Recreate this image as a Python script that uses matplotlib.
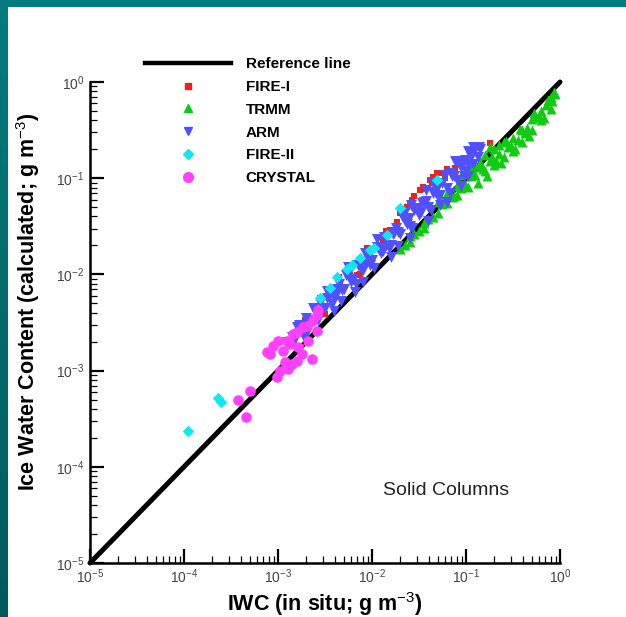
import matplotlib
matplotlib.use("Agg")
import matplotlib.pyplot as plt
import numpy as np
from matplotlib.lines import Line2D
from matplotlib.patches import Rectangle
from matplotlib.ticker import LogLocator, LogFormatterMathtext, NullFormatter

plt.rcParams["font.family"] = ["Liberation Sans", "DejaVu Sans"]
plt.rcParams["mathtext.fontset"] = "custom"
plt.rcParams["mathtext.rm"] = "Liberation Sans"
plt.rcParams["mathtext.it"] = "Liberation Sans:italic"
plt.rcParams["mathtext.bf"] = "Liberation Sans:bold"

# ---------------------------------------------------------------------------
# IWC data (in situ vs calculated), g m^-3
# ---------------------------------------------------------------------------
fire1_x = [2.54e-2, 4.14e-2, 3.24e-2, 1.85e-2, 3.49e-2, 2.14e-2, 4.46e-2, 4.9e-2,
           7.45e-3, 6.9e-3, 3.16e-3, 2.35e-3, 4.35e-2, 2.67e-2, 2.35e-2, 1.80e-1,
           5.56e-2, 1.31e-2, 1.55e-2, 9.5e-3, 4.57e-3, 5.83e-3, 5.98e-2, 7.6e-2,
           1.94e-3, 2.82e-3, 4.47e-3, 8.91e-3, 1.41e-2, 2.0e-2, 2.82e-2, 3.55e-2,
           6.31e-2, 8.91e-2, 1.12e-1]
fire1_y = [5.5e-2, 9.5e-2, 7.5e-2, 3.48e-2, 8.05e-2, 4.42e-2, 1.02e-1, 1.13e-1,
           1.02e-2, 9.8e-3, 3.92e-3, 3.56e-3, 8.87e-2, 5.9e-2, 4.99e-2, 2.32e-1,
           1.13e-1, 2.26e-2, 2.87e-2, 1.58e-2, 7.7e-3, 9.8e-3, 1.0e-1, 1.27e-1,
           3.32e-3, 5.62e-3, 9.33e-3, 1.86e-2, 2.82e-2, 4.37e-2, 6.46e-2, 7.76e-2,
           1.26e-1, 1.58e-1, 1.78e-1]

trmm_x = [2.0e-2, 2.24e-2, 2.51e-2, 2.82e-2, 3.16e-2, 3.55e-2, 3.98e-2, 4.47e-2,
          5.01e-2, 5.62e-2, 6.31e-2, 7.08e-2, 7.94e-2, 7.94e-2, 8.91e-2, 1.0e-1,
          1.0e-1, 1.12e-1, 1.26e-1, 1.26e-1, 1.41e-1, 1.58e-1, 1.58e-1, 1.78e-1,
          2.0e-1, 2.0e-1, 2.24e-1, 2.51e-1, 2.51e-1, 2.82e-1, 3.16e-1, 3.16e-1,
          3.55e-1, 3.98e-1, 3.98e-1, 4.47e-1, 5.01e-1, 5.01e-1, 5.62e-1, 6.31e-1,
          6.31e-1, 7.08e-1, 7.94e-1, 7.94e-1, 8.91e-1, 8.32e-1, 6.31e-2, 1.12e-1,
          1.78e-1, 5.01e-2,
          1.06e-1, 1.19e-1, 1.33e-1, 1.50e-1, 1.68e-1, 1.88e-1, 2.11e-1, 2.37e-1,
          2.66e-1, 2.99e-1, 3.35e-1, 3.76e-1, 4.22e-1, 4.73e-1, 5.31e-1, 5.96e-1,
          6.68e-1, 7.50e-1, 8.71e-1, 7.50e-2, 5.62e-2, 3.55e-2, 2.51e-2, 8.91e-2,
          1.41e-1, 2.24e-1]
trmm_y = [1.82e-2, 2.0e-2, 2.19e-2, 2.63e-2, 2.82e-2, 3.02e-2, 3.80e-2, 3.98e-2,
          4.37e-2, 5.37e-2, 5.50e-2, 6.31e-2, 8.32e-2, 6.76e-2, 7.94e-2, 1.10e-1,
          8.32e-2, 1.05e-1, 1.38e-1, 1.07e-1, 1.32e-1, 1.74e-1, 1.20e-1, 1.51e-1,
          2.0e-1, 1.38e-1, 1.78e-1, 2.40e-1, 1.66e-1, 2.09e-1, 2.63e-1, 1.91e-1,
          2.51e-1, 3.16e-1, 2.40e-1, 3.31e-1, 4.17e-1, 3.16e-1, 4.37e-1, 5.01e-1,
          3.98e-1, 5.75e-1, 6.92e-1, 5.25e-1, 7.59e-1, 6.31e-1, 7.08e-2, 1.32e-1,
          2.09e-1, 5.62e-2,
          8.04e-2, 1.14e-1, 8.81e-2, 1.24e-1, 1.06e-1, 1.68e-1, 1.50e-1, 1.43e-1,
          2.43e-1, 2.16e-1, 2.02e-1, 3.27e-1, 2.92e-1, 2.72e-1, 4.73e-1, 4.32e-1,
          4.22e-1, 6.53e-1, 7.94e-1, 6.53e-2, 5.89e-2, 3.39e-2, 2.51e-2, 1.07e-1,
          1.48e-1, 2.24e-1]

arm_x = [1.41e-3, 1.58e-3, 1.78e-3, 2.0e-3, 2.24e-3, 2.51e-3, 2.82e-3, 3.16e-3,
         3.55e-3, 3.98e-3, 4.47e-3, 5.01e-3, 5.62e-3, 6.31e-3, 7.08e-3, 7.94e-3,
         8.91e-3, 1.0e-2, 1.12e-2, 1.26e-2, 1.41e-2, 1.58e-2, 1.78e-2, 2.0e-2,
         2.24e-2, 2.51e-2, 2.82e-2, 3.16e-2, 3.55e-2, 3.98e-2, 4.47e-2, 5.01e-2,
         5.62e-2, 6.31e-2, 7.08e-2, 7.94e-2, 8.91e-2, 1.0e-1, 1.12e-1, 1.20e-1,
         2.0e-3, 3.98e-3, 7.94e-3, 1.58e-2, 2.51e-2, 3.98e-2, 6.31e-2, 8.91e-2,
         5.62e-3, 1.12e-2, 2.24e-2, 4.47e-2, 7.94e-2, 1.05e-1, 1.26e-3, 1.26e-1,
         1.41e-1, 1.38e-1,
         1.50e-3, 1.68e-3, 1.88e-3, 2.11e-3, 2.37e-3, 2.66e-3, 2.99e-3, 3.35e-3,
         3.76e-3, 4.22e-3, 4.73e-3, 5.31e-3, 5.96e-3, 6.68e-3, 7.50e-3, 8.41e-3,
         9.44e-3, 1.06e-2, 1.19e-2, 1.33e-2, 1.50e-2, 1.68e-2, 1.88e-2, 2.11e-2,
         2.37e-2, 2.66e-2, 2.99e-2, 3.35e-2, 3.76e-2, 4.22e-2, 4.73e-2, 5.31e-2,
         5.96e-2, 6.68e-2, 7.50e-2, 8.41e-2, 9.44e-2, 1.06e-1, 1.19e-1, 1.33e-1,
         1.66e-3, 2.40e-3, 3.31e-3, 4.79e-3, 6.61e-3, 9.55e-3, 1.32e-2, 1.91e-2,
         2.63e-2, 3.80e-2, 5.25e-2, 7.59e-2, 1.05e-1,
         2.7e-3, 4.1e-3, 6.0e-3, 8.6e-3, 1.24e-2, 1.72e-2, 2.45e-2, 3.4e-2,
         4.9e-2, 6.9e-2, 9.7e-2, 1.15e-1]
arm_y = [2.24e-3, 2.82e-3, 2.51e-3, 3.55e-3, 3.16e-3, 3.98e-3, 5.01e-3, 4.47e-3,
         6.31e-3, 5.62e-3, 7.94e-3, 7.08e-3, 1.0e-2, 8.91e-3, 1.26e-2, 1.12e-2,
         1.58e-2, 1.41e-2, 1.91e-2, 1.66e-2, 2.40e-2, 2.0e-2, 3.02e-2, 2.63e-2,
         3.55e-2, 3.16e-2, 4.68e-2, 4.17e-2, 5.62e-2, 5.01e-2, 7.08e-2, 6.31e-2,
         8.91e-2, 7.94e-2, 1.05e-1, 9.55e-2, 1.32e-1, 1.20e-1, 1.66e-1, 1.41e-1,
         2.40e-3, 4.17e-3, 8.32e-3, 1.51e-2, 2.40e-2, 3.63e-2, 5.62e-2, 8.32e-2,
         1.20e-2, 2.34e-2, 4.47e-2, 8.91e-2, 1.51e-1, 1.91e-1, 2.0e-3, 2.0e-1,
         2.0e-1, 2.09e-1,
         2.11e-3, 2.99e-3, 2.26e-3, 3.35e-3, 4.52e-3, 3.35e-3, 4.52e-3, 6.68e-3,
         4.95e-3, 7.0e-3, 5.31e-3, 9.89e-3, 8.41e-3, 8.04e-3, 1.19e-2, 1.68e-2,
         1.24e-2, 1.16e-2, 1.80e-2, 2.43e-2, 1.88e-2, 2.66e-2, 1.97e-2, 4.03e-2,
         3.35e-2, 3.05e-2, 4.95e-2, 4.42e-2, 7.50e-2, 4.62e-2, 7.16e-2, 6.68e-2,
         1.08e-1, 7.0e-2, 1.06e-1, 1.40e-1, 1.06e-1, 1.40e-1, 2.11e-1, 1.68e-1,
         1.66e-3, 3.24e-3, 5.75e-3, 6.92e-3, 6.61e-3, 1.66e-2, 1.74e-2, 2.75e-2,
         5.25e-2, 5.75e-2, 5.25e-2, 1.51e-1, 1.05e-1,
         3.9e-3, 6.1e-3, 9.0e-3, 1.32e-2, 1.90e-2, 2.72e-2, 3.9e-2, 5.5e-2,
         7.9e-2, 1.12e-1, 1.55e-1, 1.80e-1]

fire2_x = [1.10e-4, 2.30e-4, 2.48e-4, 2.80e-3, 4.25e-3, 5.42e-3, 7.45e-3, 9.5e-3,
           1.45e-2, 1.99e-2, 4.9e-2, 3.57e-3, 6.1e-3, 1.05e-2]
fire2_y = [2.37e-4, 5.2e-4, 4.75e-4, 5.75e-3, 9.3e-3, 1.15e-2, 1.47e-2, 1.78e-2,
           2.55e-2, 4.87e-2, 9.5e-2, 7.15e-3, 1.24e-2, 1.87e-2]

crystal_x = [1.0e-3, 8.2e-4, 7.6e-4, 1.14e-3, 1.24e-3, 1.46e-3, 1.58e-3, 1.86e-3,
             2.02e-3, 2.38e-3, 2.58e-3, 2.69e-3, 1.34e-3, 1.64e-3, 1.19e-3, 1.40e-3,
             1.05e-3, 9.7e-4, 1.29e-3, 1.58e-3, 1.79e-3, 2.29e-3, 2.58e-3, 5.0e-4,
             3.8e-4, 4.6e-4, 8.85e-4, 2.08e-3]
crystal_y = [2.05e-3, 1.49e-3, 1.55e-3, 1.61e-3, 2.05e-3, 2.41e-3, 2.51e-3, 2.83e-3,
             2.94e-3, 3.32e-3, 3.74e-3, 4.22e-3, 1.90e-3, 1.75e-3, 1.22e-3, 1.17e-3,
             1.0e-3, 8.5e-4, 1.04e-3, 1.27e-3, 1.49e-3, 1.32e-3, 2.61e-3, 6.2e-4,
             4.95e-4, 3.3e-4, 1.82e-3, 2.05e-3]

ref_line = [1e-5, 1.0]

# ---------------------------------------------------------------------------
# Figure
# ---------------------------------------------------------------------------
fig = plt.figure(figsize=(6.26, 6.17), dpi=100, facecolor="white")

# teal frame: flat band on top, darkening strip down the left
strip = fig.add_axes([0, 0, 8 / 626, 1])
grad = np.linspace(0, 1, 256).reshape(-1, 1)
strip.imshow(grad, aspect="auto", cmap=matplotlib.colors.LinearSegmentedColormap.from_list(
    "teal", ["#027c7e", "#005a5c"]), extent=[0, 1, 0, 1], origin="upper")
strip.axis("off")
fig.add_artist(Rectangle((0, 1 - 7 / 617), 1, 7 / 617, transform=fig.transFigure,
                         facecolor="#027c80", edgecolor="none"))

ax = fig.add_axes([90 / 626, 54 / 617, 470 / 626, 481 / 617])
ax.set_xscale("log")
ax.set_yscale("log")
ax.set_xlim(1e-5, 1)
ax.set_ylim(1e-5, 1)

ax.plot(ref_line, ref_line, color="black", lw=3.6, solid_capstyle="round", zorder=1,
        clip_on=False)
ax.scatter(fire1_x, fire1_y, marker="s", s=24, color="#e8251b", linewidths=0, zorder=2)
ax.scatter(trmm_x, trmm_y, marker="^", s=52, color="#10cc10", linewidths=0, zorder=3)
ax.scatter(arm_x, arm_y, marker="v", s=62, color="#5050ff", linewidths=0, zorder=4)
ax.scatter(fire2_x, fire2_y, marker="D", s=34, color="#10e8f0", linewidths=0, zorder=5)
ax.scatter(crystal_x, crystal_y, marker="o", s=58, color="#ff40ff", linewidths=0, zorder=6)

for side in ("top", "right"):
    ax.spines[side].set_visible(False)
for side in ("left", "bottom"):
    ax.spines[side].set_linewidth(1.8)

for axis in (ax.xaxis, ax.yaxis):
    axis.set_major_locator(LogLocator(base=10, numticks=10))
    axis.set_minor_locator(LogLocator(base=10, subs=np.arange(2, 10), numticks=10))
    axis.set_major_formatter(LogFormatterMathtext())
    axis.set_minor_formatter(NullFormatter())
ax.tick_params(which="major", direction="in", length=10, width=1.6,
               labelsize=10, labelcolor="#444444")
ax.tick_params(which="minor", direction="in", length=5, width=0.9)
ax.tick_params(axis="x", pad=3)
ax.tick_params(axis="y", pad=4)

ax.text(0.757, 0.150, "Solid Columns", transform=ax.transAxes, ha="center",
        va="center", fontsize=14, color="#222222")

fig.text(28 / 626, 1 - 302 / 617, r"Ice Water Content (calculated; g m$^{-3}$)",
         rotation=90, ha="center", va="center", fontsize=15.5, fontweight="bold")
fig.text(325 / 626, 13 / 617, r"IWC (in situ; g m$^{-3}$)",
         ha="center", va="center", fontsize=15.5, fontweight="bold")

handles = [
    Line2D([], [], color="black", lw=3.2),
    Line2D([], [], marker="s", ls="none", ms=4, color="#e8251b"),
    Line2D([], [], marker="^", ls="none", ms=5.5, color="#10cc10"),
    Line2D([], [], marker="v", ls="none", ms=6, color="#5050ff"),
    Line2D([], [], marker="D", ls="none", ms=5, color="#10e8f0"),
    Line2D([], [], marker="o", ls="none", ms=7, color="#ff40ff"),
]
labels = ["Reference line", "FIRE-I", "TRMM", "ARM", "FIRE-II", "CRYSTAL"]
fig.legend(handles, labels, loc="upper left", bbox_to_anchor=(145 / 626, 1 - 57 / 617),
           frameon=False, prop={"size": 11, "weight": "bold"}, handlelength=5.6,
           handletextpad=1.0, labelspacing=0.58, borderpad=0, borderaxespad=0)

fig.savefig("out.png", dpi=100, facecolor="white")
